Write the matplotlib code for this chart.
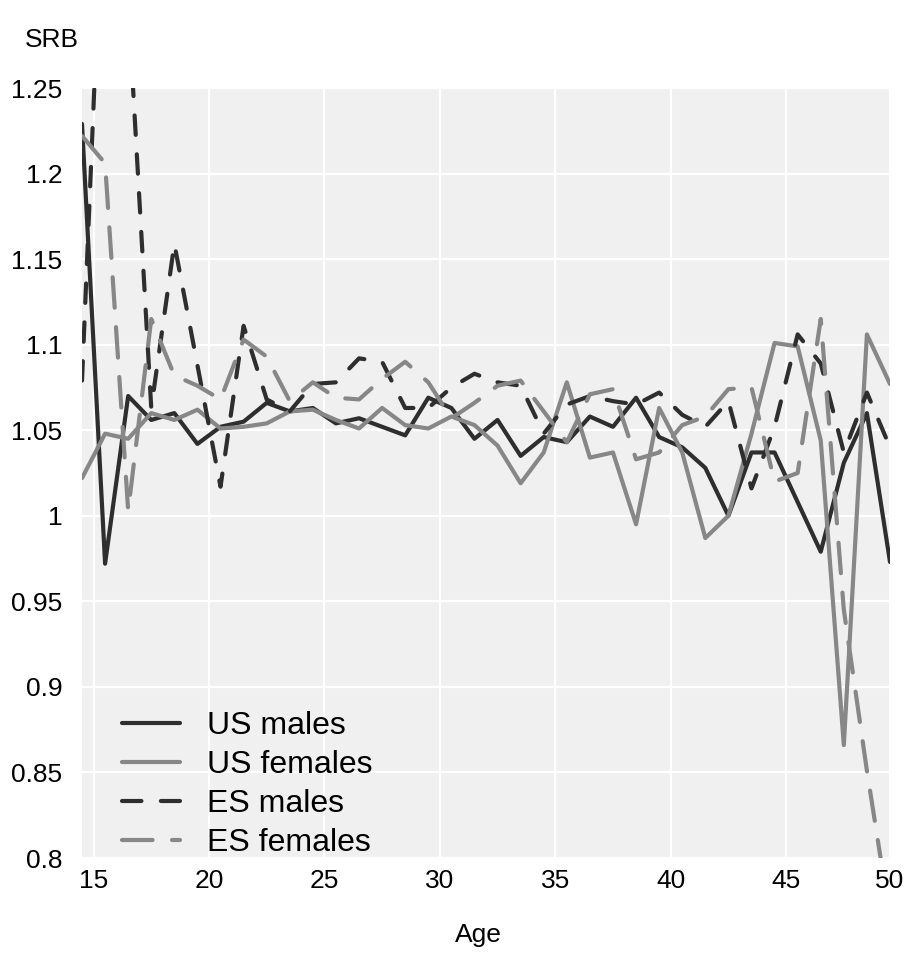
import numpy as np
import matplotlib
matplotlib.use("Agg")
import matplotlib.pyplot as plt

# ages (mid-year of the one-year age groups)
ages = np.arange(14.5, 50, 1.0)

us_males = [1.229, 0.972, 1.070, 1.056, 1.060, 1.042, 1.052, 1.055, 1.066, 1.061,
            1.063, 1.054, 1.057, 1.052, 1.047, 1.069, 1.063, 1.045, 1.056, 1.035,
            1.046, 1.043, 1.058, 1.052, 1.069, 1.046, 1.040, 1.028, 1.000, 1.037,
            1.037, 1.008, 0.979, 1.031, 1.060, 0.973]
us_females = [1.022, 1.048, 1.045, 1.060, 1.056, 1.062, 1.051, 1.052, 1.054, 1.061,
              1.062, 1.056, 1.051, 1.063, 1.053, 1.051, 1.058, 1.053, 1.041, 1.019,
              1.037, 1.078, 1.034, 1.037, 0.995, 1.063, 1.037, 0.987, 1.000, 1.048,
              1.101, 1.099, 1.044, 0.866, 1.106, 1.077]
es_males = [1.079, 1.400, 1.300, 1.063, 1.159, 1.088, 1.017, 1.111, 1.068, 1.061,
            1.077, 1.078, 1.092, 1.090, 1.063, 1.063, 1.075, 1.083, 1.078, 1.076,
            1.048, 1.065, 1.070, 1.067, 1.065, 1.072, 1.059, 1.052, 1.067, 1.016,
            1.052, 1.106, 1.089, 1.037, 1.072, 1.040]
es_females = [1.222, 1.206, 1.003, 1.115, 1.082, 1.076, 1.068, 1.103, 1.093, 1.067,
              1.078, 1.069, 1.068, 1.080, 1.090, 1.078, 1.057, 1.066, 1.076, 1.079,
              1.061, 1.043, 1.071, 1.074, 1.033, 1.037, 1.053, 1.058, 1.074, 1.075,
              1.020, 1.025, 1.115, 0.945, 0.851, 0.765]

xticks = [15, 20, 25, 30, 35, 40, 45, 49.5]
xticklabels = ["15", "20", "25", "30", "35", "40", "45", "50"]
yticks = [0.8, 0.85, 0.9, 0.95, 1.0, 1.05, 1.1, 1.15, 1.2, 1.25]
yticklabels = ["0.8", "0.85", "0.9", "0.95", "1", "1.05", "1.1", "1.15", "1.2", "1.25"]

plt.rcParams["font.family"] = ["Liberation Sans", "DejaVu Sans"]
plt.rcParams["lines.scale_dashes"] = False

dark = "#2e2e2e"
grey = "#878787"
lw = 3.0

fig = plt.figure(figsize=(9.2, 9.56), dpi=100)
ax = fig.add_axes([82 / 920, 98 / 956, 808 / 920, 770 / 956])
ax.set_facecolor("#f0f0f0")

ax.plot(ages, us_males, color=dark, lw=lw, label="US males", solid_capstyle="round")
ax.plot(ages, us_females, color=grey, lw=lw, label="US females", solid_capstyle="round")
ax.plot(ages, es_males, color=dark, lw=lw, label="ES males",
        dashes=(14, 14), dash_capstyle="round")
ax.plot(ages, es_females, color=grey, lw=lw, label="ES females",
        dashes=(22, 14), dash_capstyle="round")

ax.set_xlim(14.5, 49.5)
ax.set_ylim(0.8, 1.25)
ax.set_xticks(xticks)
ax.set_xticklabels(xticklabels)
ax.set_yticks(yticks)
ax.set_yticklabels(yticklabels)
ax.grid(True, color="white", lw=1.6)
ax.set_axisbelow(True)
for s in ax.spines.values():
    s.set_visible(False)
ax.tick_params(length=0, labelsize=19, colors="black")
ax.tick_params(axis="y", pad=14)
ax.tick_params(axis="x", pad=8)

ax.legend(loc="lower left", bbox_to_anchor=(0.05, 0.0), frameon=False,
          fontsize=23, handlelength=1.8, handletextpad=0.85, labelspacing=0.28,
          borderpad=0, borderaxespad=0)

fig.text(25 / 920, 1 - 40 / 956, "SRB", fontsize=19, ha="left", va="center")
fig.text(478 / 920, 1 - 935 / 956, "Age", fontsize=19, ha="center", va="center")

fig.savefig("out.png", dpi=100)
